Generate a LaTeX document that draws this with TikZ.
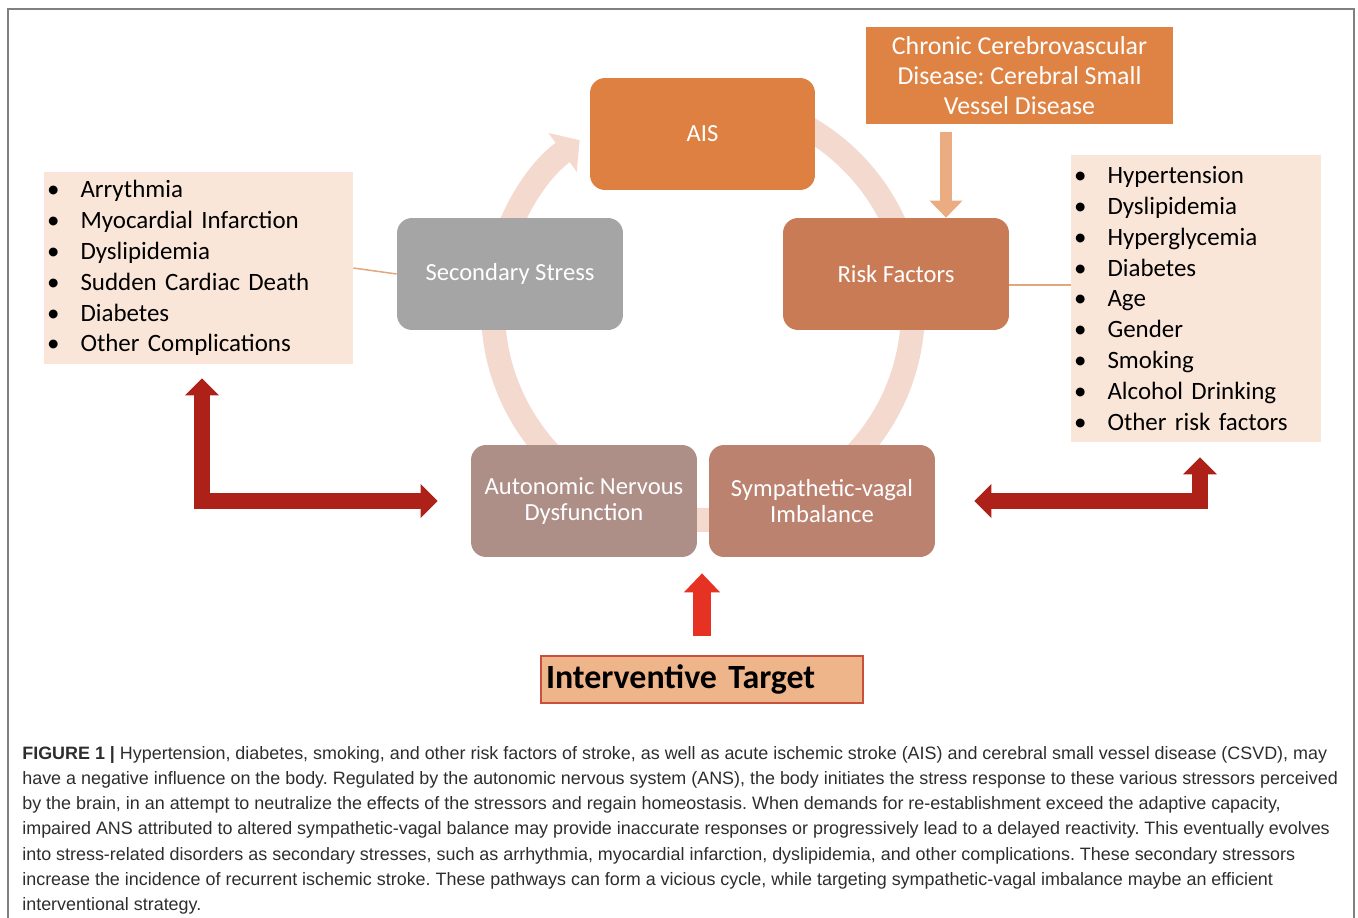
\documentclass[tikz,border=0pt]{standalone}
\usepackage{fontspec}
\setmainfont{Carlito}
\newfontfamily\capfont{Liberation Sans}
\definecolor{aisorange}{RGB}{221,128,66}
\definecolor{riskbrown}{RGB}{201,123,86}
\definecolor{stressgray}{RGB}{165,165,165}
\definecolor{ansmauve}{RGB}{173,143,136}
\definecolor{svibrown}{RGB}{188,130,112}
\definecolor{csvdorange}{RGB}{222,131,68}
\definecolor{listpeach}{RGB}{250,230,217}
\definecolor{ringpink}{RGB}{244,218,206}
\definecolor{csvdarrow}{RGB}{234,172,128}
\definecolor{darkred}{RGB}{174,33,25}
\definecolor{brightred}{RGB}{230,50,35}
\definecolor{targetfill}{RGB}{238,180,138}
\definecolor{targetline}{RGB}{200,80,60}
\definecolor{linktan}{RGB}{227,167,126}
\definecolor{framegray}{RGB}{128,128,128}
\definecolor{captext}{RGB}{45,45,45}
\usetikzlibrary{arrows.meta,positioning,calc}
\newcommand{\bitem}[1]{\makebox[0.67cm][l]{\textbullet}#1}
\frenchspacing

\begin{document}
\begin{tikzpicture}[x=0.02cm, y=0.02cm,
  cyc/.style={rounded corners=0.3cm, minimum width=4.5cm, minimum height=2.24cm,
    inner sep=2pt, text=white, align=center, font=\fontsize{14}{14.9}\selectfont},
  plist/.style={fill=listpeach, align=left, inner xsep=0.06cm, inner ysep=0pt,
    font=\fontsize{14.2}{17.6}\selectfont},
  link/.style={linktan, line width=0.85pt},
  elbow/.style={darkred, line width=0.32cm, line join=miter,
    {Triangle[width=0.66cm,length=0.34cm]}-{Triangle[width=0.66cm,length=0.34cm]}},
  ring/.style={ringpink, line width=0.48cm, -{Triangle[width=0.94cm,length=0.42cm]}}]

\useasboundingbox (0,0) rectangle (1358,-918);

% --- frame ---
\draw[framegray, line width=0.85pt] (8,-930) |- (1354,-9) -- (1354,-930);

% --- cycle ring (behind boxes) ---
\coordinate (ringc) at (703,-310);
\draw[ring] ($(ringc)+(80:4.2cm)$) arc[start angle=80, end angle=-234, radius=4.2cm];

% --- cycle boxes ---
\node[cyc, fill=aisorange] (ais) at (702.5,-134) {AIS};
\node[cyc, fill=riskbrown, minimum width=4.52cm] (risk) at (896,-274) {Risk Factors};
\node[cyc, fill=stressgray, minimum width=4.52cm] (ss) at (510,-274) {Secondary Stress};
\node[cyc, fill=ansmauve, minimum width=4.52cm] (ans) at (584,-501) {Autonomic Nervous\\Dysfunction};
\node[cyc, fill=svibrown, minimum width=4.52cm] (svi) at (822,-501) {Sympathetic-vagal\\Imbalance};

% --- chronic disease box ---
\node[fill=csvdorange, text=white, minimum width=6.14cm, minimum height=1.94cm,
      align=center, font=\fontsize{14.7}{17}\selectfont] (csvd) at (1019.5,-75.5)
      {Chronic Cerebrovascular\\Disease: Cerebral Small\\Vessel Disease};
\coordinate (cvx) at (946,0);
\draw[csvdarrow, line width=0.24cm, -{Triangle[width=0.64cm,length=0.34cm]}]
     ([yshift=-0.16cm]csvd.south -| cvx) -- (cvx |- risk.north);

% --- lists ---
\node[plist, text width=6.06cm, minimum height=3.84cm] (comp) at (198.5,-268)
     {\bitem{Arrythmia}\\\bitem{Myocardial Infarction}\\\bitem{Dyslipidemia}\\
      \bitem{Sudden Cardiac Death}\\\bitem{Diabetes}\\\bitem{Other Complications}};
\node[plist, text width=4.88cm, minimum height=5.74cm] (factors) at (1196,-298.5)
     {\bitem{Hypertension}\\\bitem{Dyslipidemia}\\\bitem{Hyperglycemia}\\
      \bitem{Diabetes}\\\bitem{Age}\\\bitem{Gender}\\\bitem{Smoking}\\
      \bitem{Alcohol Drinking}\\\bitem{Other risk factors}};
\draw[link] (comp.east) -- (ss.west);
\draw[link] ([yshift=-0.22cm]risk.east) -- ([yshift=-0.22cm]risk.east -| factors.west);

% --- double elbow arrows ---
\draw[elbow] ([xshift=0.07cm,yshift=-0.28cm]comp.south) |- ([xshift=-0.66cm]ans.west);
\draw[elbow] ([xshift=0.78cm]svi.east) -| ([xshift=0.08cm,yshift=-0.3cm]factors.south);

% --- interventive target ---
\node[fill=targetfill, draw=targetline, line width=0.8pt, minimum height=0.94cm,
      text width=6.24cm, inner xsep=0.1cm, align=left,
      font=\bfseries\fontsize{19.3}{21}\selectfont] (target) at (702,-679.5)
      {Interventive Target};
\draw[brightred, line width=0.36cm, -{Triangle[width=0.7cm,length=0.38cm]}]
     ([yshift=0.38cm]target.north) -- ([yshift=-0.32cm]target.north |- ans.south);

% --- caption ---
\node[anchor=north west, align=left, inner sep=0pt, text=captext,
      font=\capfont\fontsize{10.2}{14.35}\selectfont] (caption) at (22,-746)
{\textbf{FIGURE 1 |} Hypertension, diabetes, smoking, and other risk factors of stroke, as well as acute ischemic stroke (AIS) and cerebral small vessel disease (CSVD), may\\
have a negative influence on the body. Regulated by the autonomic nervous system (ANS), the body initiates the stress response to these various stressors perceived\\
by the brain, in an attempt to neutralize the effects of the stressors and regain homeostasis. When demands for re-establishment exceed the adaptive capacity,\\
impaired ANS attributed to altered sympathetic-vagal balance may provide inaccurate responses or progressively lead to a delayed reactivity. This eventually evolves\\
into stress-related disorders as secondary stresses, such as arrhythmia, myocardial infarction, dyslipidemia, and other complications. These secondary stressors\\
increase the incidence of recurrent ischemic stroke. These pathways can form a vicious cycle, while targeting sympathetic-vagal imbalance maybe an efficient\\
interventional strategy.};

\end{tikzpicture}
\end{document}
